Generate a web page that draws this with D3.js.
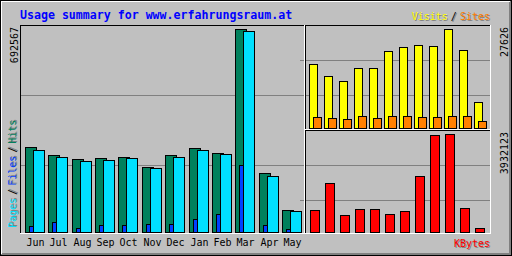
<!DOCTYPE html>
<html>
<head>
<meta charset="utf-8">
<script src="https://cdn.jsdelivr.net/npm/d3@7"></script>
<style>
  html, body { margin: 0; padding: 0; background: #fff; }
  svg { display: block; }
  text { font-family: "DejaVu Sans Mono", monospace; font-size: 10px; }
</style>
</head>
<body>
<svg id="canvas"></svg>
<script>
// data
const months = ['Jun', 'Jul', 'Aug', 'Sep', 'Oct', 'Nov', 'Dec', 'Jan', 'Feb', 'Mar', 'Apr', 'May'];
const hits   = [290000, 261700, 248000, 251400, 255900, 221800, 261700, 286600, 268500, 692567, 200300, 74000];
const files  = [278700, 255900, 241200, 244600, 251400, 217300, 255900, 278700, 265100, 684700, 190000, 70600];
const pages  = [20500, 34100, 12600, 23900, 23900, 27300, 27300, 44400, 60400, 227600, 22900, 9200];
const visits = [17860, 14430, 13030, 16660, 16660, 21400, 22520, 23080, 22800, 27626, 21680, 7170];
const sites  = [2990, 2710, 2430, 3260, 2710, 3260, 3260, 2990, 2990, 3260, 3260, 1870];
const kbytes = [870700, 1954000, 670000, 910800, 910800, 710200, 830600, 2234900, 3880000, 3932123, 950900, 148500];

const title = 'Usage summary for www.erfahrungsraum.at';

const width = 512;
const height = 256;
const bg = '#c0c0c0';
const dark = '#808080';

const svg = d3.select('#canvas')
    .attr('width', width)
    .attr('height', height);

// one pixel crisp lines
const hline = (x1, x2, y, c) => svg.append('line')
    .attr('x1', x1).attr('x2', x2 + 1)
    .attr('y1', y + 0.5).attr('y2', y + 0.5)
    .attr('stroke', c).attr('shape-rendering', 'crispEdges');
const vline = (x, y1, y2, c) => svg.append('line')
    .attr('x1', x + 0.5).attr('x2', x + 0.5)
    .attr('y1', y1).attr('y2', y2 + 1)
    .attr('stroke', c).attr('shape-rendering', 'crispEdges');

// background + bevel frame
svg.append('rect').attr('width', width).attr('height', height).attr('fill', bg);
svg.append('rect').attr('x', 0.5).attr('y', 0.5).attr('width', width - 1).attr('height', height - 1)
    .attr('fill', 'none').attr('stroke', '#000').attr('shape-rendering', 'crispEdges');
hline(1, 509, 1, '#fff');
vline(1, 1, 253, '#fff');
hline(2, 510, 253, dark);
hline(1, 510, 254, dark);
vline(509, 2, 254, dark);
vline(510, 1, 254, dark);

// panels
const main  = { left: 20, right: 304, top: 25, bottom: 233, step: 70 };
const upper = { left: 305, right: 490, top: 25, bottom: 129, step: 35 };
const lower = { left: 305, right: 490, top: 130, bottom: 233, step: 35 };

const gridRows = p => d3.range(1, 3).map(i => p.top + i * p.step);

// grid lines
gridRows(main).forEach(y => hline(main.left + 1, main.right - 1, y, dark));
gridRows(upper).forEach(y => hline(upper.left - 5, upper.right - 1, y, dark));
gridRows(lower).forEach(y => hline(lower.left - 5, lower.right - 1, y, dark));

const drawBox = p => {
    hline(p.left, p.right, p.top, '#000');
    vline(p.left, p.top, p.bottom, '#000');
    hline(p.left, p.right, p.bottom, '#fff');
    vline(p.right, p.top, p.bottom, '#fff');
};
drawBox(main);
drawBox(upper);
drawBox(lower);

// scales
const xMain = d3.scaleBand().domain(months).range([25, 305.3]);
const xSmall = d3.scaleBand().domain(months).range([309, 489]);

const yMain = d3.scaleLinear().domain([0, d3.max(hits)]).range([232, 29]);
const yUpper = d3.scaleLinear().domain([0, d3.max(visits)]).range([128, 29]);
const yLower = d3.scaleLinear().domain([0, d3.max(kbytes)]).range([232, 134]);

const drawBars = (values, xScale, yScale, bottom, offset, w, color) => {
    svg.append('g')
        .selectAll('rect')
        .data(values)
        .enter()
        .append('rect')
        .attr('x', (d, i) => Math.round(xScale(months[i])) + offset + 0.5)
        .attr('y', d => Math.round(yScale(d)) + 0.5)
        .attr('width', w)
        .attr('height', d => bottom - Math.round(yScale(d)))
        .attr('fill', color)
        .attr('stroke', '#000')
        .attr('shape-rendering', 'crispEdges');
};

drawBars(hits, xMain, yMain, 232, 0, 11, '#00805c');
drawBars(files, xMain, yMain, 232, 8, 11, '#00e0ff');
drawBars(pages, xMain, yMain, 232, 4, 4, '#0040ff');

drawBars(visits, xSmall, yUpper, 128, 0, 8, '#ffff00');
drawBars(sites, xSmall, yUpper, 128, 4, 8, '#ff8000');

drawBars(kbytes, xSmall, yLower, 232, 1, 9, '#ff0000');

// month labels
svg.append('g')
    .selectAll('text')
    .data(months)
    .enter()
    .append('text')
    .attr('x', d => Math.round(xMain(d)) + 10.5)
    .attr('y', 246)
    .attr('text-anchor', 'middle')
    .attr('fill', '#000')
    .text(d => d);

// title
svg.append('text')
    .attr('x', 20).attr('y', 19)
    .attr('fill', '#0000ff')
    .style('font-weight', 'bold')
    .style('font-size', '11.6px')
    .text(title);

// legend text with a grey shadow
const legend = (parts, transform, anchor) => {
    [[1, 1, true], [0, 0, false]].forEach(([dx, dy, shadow]) => {
        const t = svg.append('text')
            .attr('transform', transform)
            .attr('x', dx).attr('y', dy)
            .attr('text-anchor', anchor);
        parts.forEach(([s, c, gap]) => {
            t.append('tspan').attr('dx', gap).attr('fill', shadow ? dark : c).text(s);
        });
    });
};

legend([['Visits', '#ffff00', 0], ['/', '#000', 3], ['Sites', '#ff8000', 3]], 'translate(490,20)', 'end');
legend([['KBytes', '#ff0000', 0]], 'translate(490,247)', 'end');
legend([['Pages', '#00e0ff', 0], ['/', '#000', 3], ['Files', '#0040ff', 3], ['/', '#000', 3], ['Hits', '#00805c', 3]],
    'translate(16,228) rotate(-90)', 'start');

// max value labels
const maxLabel = (v, x, y) => svg.append('text')
    .attr('transform', `translate(${x},${y}) rotate(-90)`)
    .attr('text-anchor', 'end')
    .attr('fill', '#000')
    .text(d3.format('d')(v));

maxLabel(d3.max(hits), 17.5, 27);
maxLabel(d3.max(visits), 507.5, 27);
maxLabel(d3.max(kbytes), 507.5, 132);
</script>
</body>
</html>
